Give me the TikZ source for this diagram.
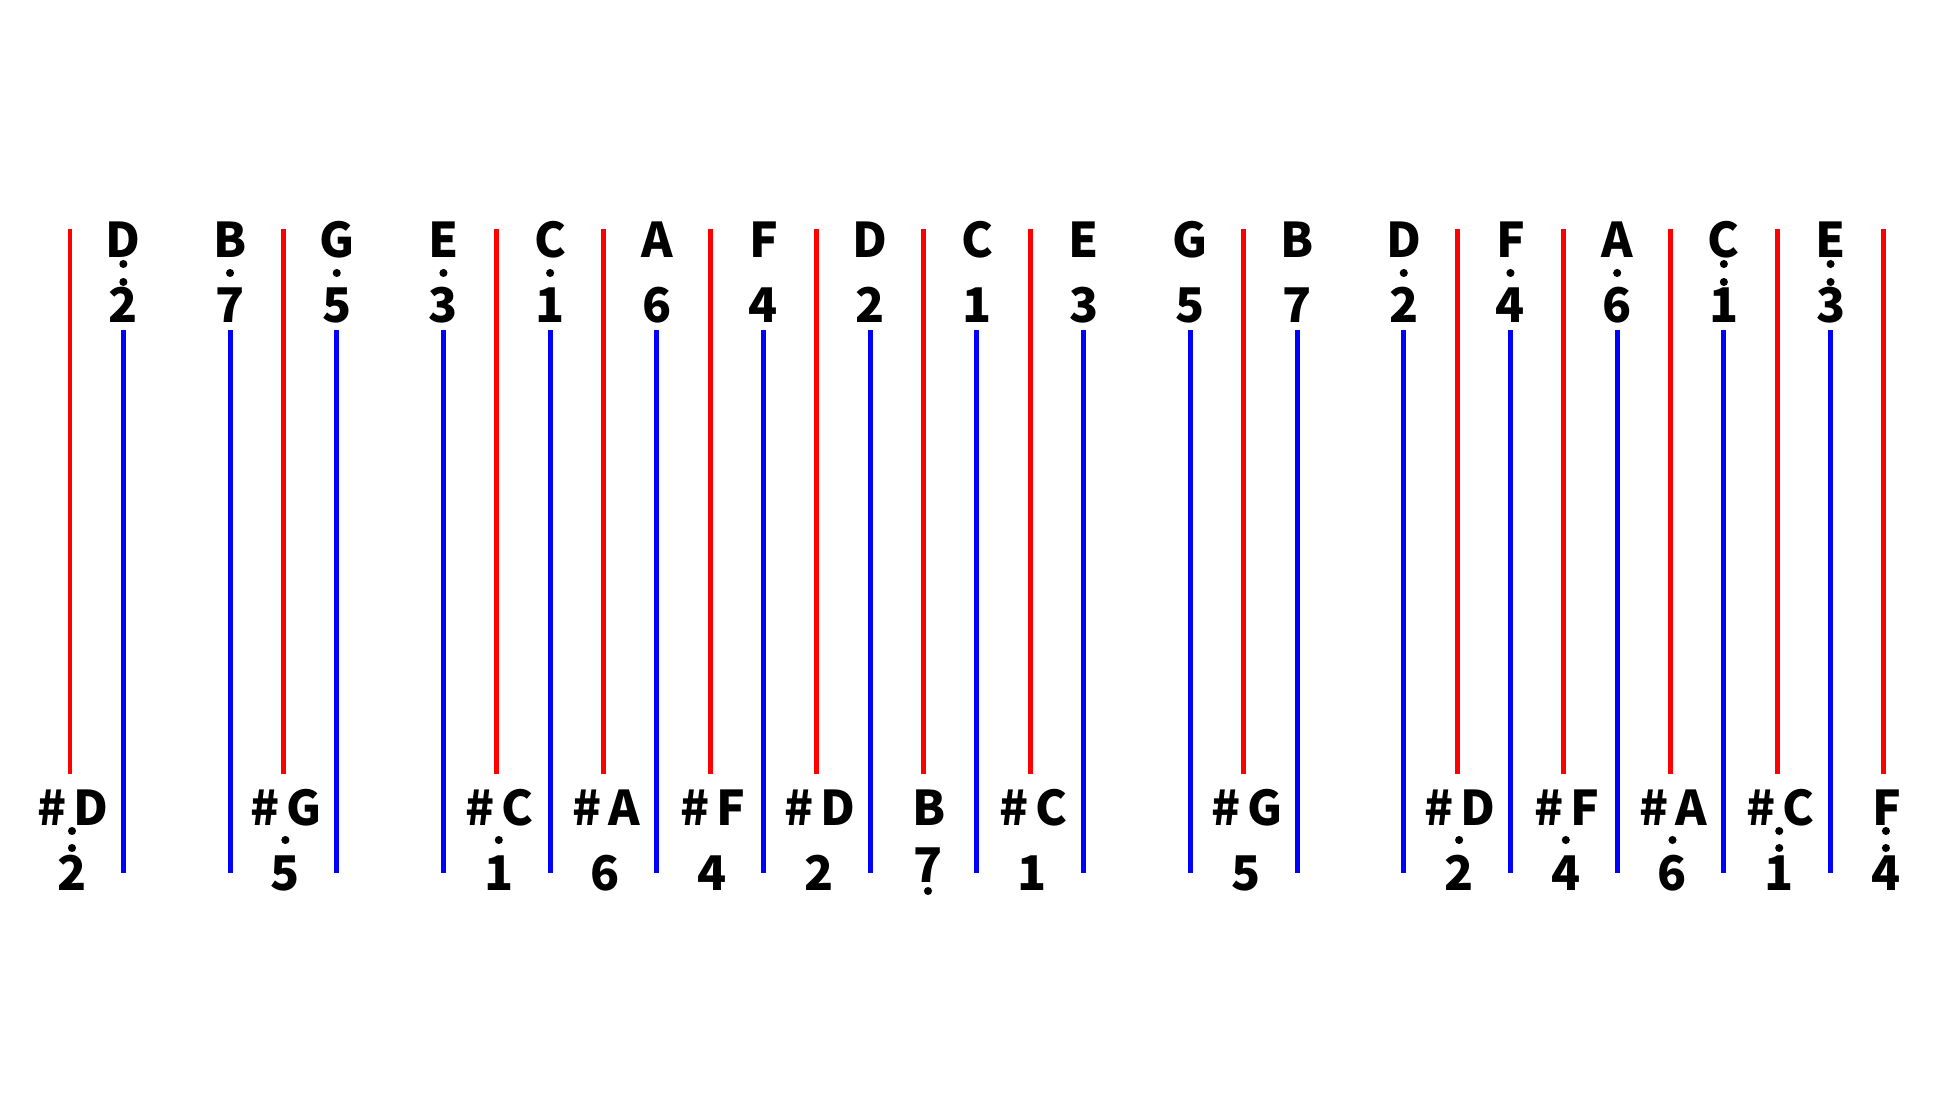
\documentclass[tikz,border=0pt]{standalone}
\usepackage{fontspec}
\newfontfamily\notefont{Noto Sans CJK SC}
\usepackage{tikz}

\newcommand{\shp}{\#\kern2pt}

\tikzset{
  redline/.style={red, line width=1.42pt},
  blueline/.style={blue, line width=1.42pt},
  notelabel/.style={font=\notefont\bfseries\fontsize{13.6}{16}\selectfont, inner sep=0pt, anchor=base},
  notedot/.style={fill=black},
}

\begin{document}
\begin{tikzpicture}[x=0.01cm, y=-0.01cm]
\useasboundingbox (0,0) rectangle (1955,1104);

% Lineas rojas
\foreach \k in {0,4,8,10,12,14,16,18,22,26,28,30,32,34}
  \draw[redline] ({70+53.35*\k},229) -- ({70+53.35*\k},774);

% Lineas azules
\foreach \k in {1,3,...,33}
  \draw[blueline] ({70+53.35*\k},330) -- ({70+53.35*\k},873);

% Notas de arriba
\foreach \k/\nt/\num/\nd in {1/D/2/2, 3/B/7/1, 5/G/5/1, 7/E/3/1, 9/C/1/1,
    11/A/6/0, 13/F/4/0, 15/D/2/0, 17/C/1/0, 19/E/3/0, 21/G/5/0, 23/B/7/0,
    25/D/2/1, 27/F/4/1, 29/A/6/1, 31/C/1/2, 33/E/3/2}{
  \pgfmathsetmacro{\x}{70+53.35*\k}
  \node[notelabel] (top\k) at (\x,258) {\nt};
  \node[notelabel] (topnum\k) at (\x,323) {\num};
  \ifnum\nd=1 \fill[notedot] (\x,273) circle (1.15pt); \fi
  \ifnum\nd=2
    \fill[notedot] (\x,264) circle (1.15pt);
    \fill[notedot] (\x,282) circle (1.15pt);
  \fi
}

% Notas de abajo
\foreach \k/\nt/\num/\nd in {0/\shp D/2/2, 4/\shp G/5/1, 8/\shp C/1/1, 10/\shp A/6/0,
    12/\shp F/4/0, 14/\shp D/2/0, 18/\shp C/1/0, 22/\shp G/5/0, 26/\shp D/2/1,
    28/\shp F/4/1, 30/\shp A/6/1, 32/\shp C/1/2, 34/F/4/2}{
  \pgfmathsetmacro{\x}{70+53.35*\k}
  \node[notelabel] (bot\k) at (\x+3,825) {\nt};
  \node[notelabel] (botnum\k) at (\x+2,890) {\num};
  \ifnum\nd=1 \fill[notedot] (\x+2,840) circle (1.15pt); \fi
  \ifnum\nd=2
    \fill[notedot] (\x+2,831) circle (1.15pt);
    \fill[notedot] (\x+2,848) circle (1.15pt);
  \fi
}

% B con punto abajo
\node[notelabel] (bot16) at (929,825) {B};
\node[notelabel] (botnum16) at (928,882) {7};
\fill[notedot] (928,891) circle (1.15pt);

\end{tikzpicture}
\end{document}
